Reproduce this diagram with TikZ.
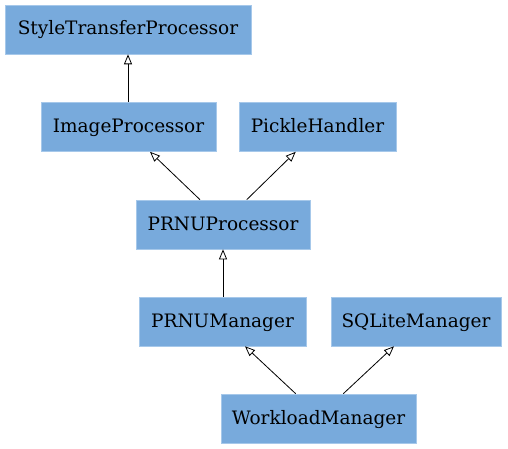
\documentclass[tikz,border=0pt]{standalone}
\usepackage{fontspec}
\setmainfont{DejaVu Serif}
\usetikzlibrary{arrows.meta}
\definecolor{boxblue}{HTML}{78AADC}
\definecolor{boxedge}{HTML}{A6C8EA}
\tikzset{
  cls/.style={fill=boxblue, draw=boxedge, line width=0.6pt, inner sep=0pt, minimum height=49pt, text height=13.9pt, text depth=2.9pt, font=\fontsize{18.5}{21}\selectfont, text=black},
  inh/.style={draw=black, line width=0.8pt, -{Triangle[open, length=10pt, width=8pt, line width=0.8pt]}}
}
\begin{document}
\begin{tikzpicture}[x=1pt, y=-1pt]
\useasboundingbox (0,0) rectangle (508,449);
\node[cls, minimum width=246pt] (stp) at (128,29.5) {StyleTransferProcessor};
\node[cls, minimum width=175pt] (img) at (128.5,127) {ImageProcessor};
\node[cls, minimum width=157pt] (pkl) at (317.5,127) {PickleHandler};
\node[cls, minimum width=174pt] (prp) at (223,224.5) {PRNUProcessor};
\node[cls, minimum width=167pt] (prm) at (222.5,321.5) {PRNUManager};
\node[cls, minimum width=170pt] (sql) at (416,321.5) {SQLiteManager};
\node[cls, minimum width=195pt] (wlm) at (318.5,418.5) {WorkloadManager};
\draw[inh] ([xshift=-0.5pt]img.north) -- ([xshift=0pt]stp.south);
\draw[inh] ([xshift=-23pt]prp.north) -- ([xshift=21.5pt]img.south);
\draw[inh] ([xshift=23.7pt]prp.north) -- ([xshift=-21.8pt]pkl.south);
\draw[inh] ([xshift=0.5pt]prm.north) -- ([xshift=0pt]prp.south);
\draw[inh] ([xshift=-22.8pt]wlm.north) -- ([xshift=22.5pt]prm.south);
\draw[inh] ([xshift=24.8pt]wlm.north) -- ([xshift=-22pt]sql.south);
\end{tikzpicture}
\end{document}
